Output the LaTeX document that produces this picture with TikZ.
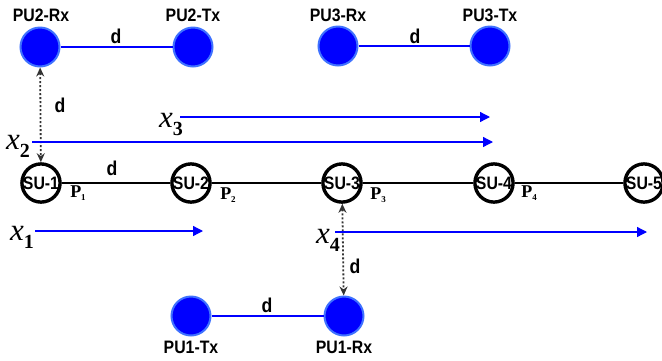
\documentclass[tikz,border=0pt]{standalone}
\usepackage{fontspec}
\usetikzlibrary{arrows.meta}
\newfontfamily\labfont[FakeStretch=0.88]{Liberation Sans}
\newfontfamily\serfont{Liberation Serif}
\definecolor{puedge}{HTML}{3F72FF}
\definecolor{dotgray}{HTML}{333333}
\tikzset{
  pu/.style={circle, fill=blue, draw=puedge, line width=2pt, minimum size=39pt, inner sep=0pt},
  su/.style={circle, fill=white, draw=black, line width=3.4pt, minimum size=38pt, inner sep=0pt,
             font=\labfont\bfseries\fontsize{18}{18}\selectfont},
  lbl/.style={font=\labfont\bfseries\fontsize{18}{18}\selectfont, inner sep=0pt},
  dlbl/.style={font=\labfont\bfseries\fontsize{20}{20}\selectfont, inner sep=0pt},
  pulink/.style={blue, line width=1.8pt},
  sulink/.style={black, line width=2pt},
  flow/.style={blue, line width=1.3pt, -{Triangle[length=10pt,width=10pt]}},
  gap/.style={dotgray, line width=1.8pt, dash pattern=on 2pt off 2pt,
              {Stealth[length=9pt,width=8pt]}-{Stealth[length=9pt,width=8pt]}},
  xlbl/.style={font=\serfont\fontsize{31}{31}\selectfont, inner sep=0pt},
  plbl/.style={font=\serfont\bfseries\fontsize{18}{18}\selectfont, inner sep=0pt}
}
\newcommand{\plab}[1]{P\raisebox{-3pt}{\fontsize{9}{9}\selectfont #1}}
\newcommand{\xlab}[1]{\textit{x}\raisebox{-8pt}{\bfseries\fontsize{20}{20}\selectfont #1}}
\begin{document}
\begin{tikzpicture}[x=1pt,y=-1pt]
\useasboundingbox (0,0) rectangle (662,360);

% primary user pairs
\node[pu] (pu2rx) at (40,47) {};
\node[pu] (pu2tx) at (193,47) {};
\node[pu] (pu3rx) at (338,46) {};
\node[pu] (pu3tx) at (490,46) {};
\node[pu] (pu1tx) at (191,316) {};
\node[pu] (pu1rx) at (344,316) {};

% secondary users along the chain
\node[su] (su1) at (41,183) {SU-1};
\node[su] (su2) at (191,183) {SU-2};
\node[su] (su3) at (342,183) {SU-3};
\node[su] (su4) at (494,183) {SU-4};
\node[su] (su5) at (644,183) {SU-5};

% links
\draw[pulink] (pu2rx) -- (pu2tx);
\draw[pulink] (pu3rx) -- (pu3tx);
\draw[pulink] (pu1tx) -- (pu1rx);
\draw[sulink] (su1) -- (su2);
\draw[sulink] (su2) -- (su3);
\draw[sulink] (su3) -- (su4);
\draw[sulink] (su4) -- (su5);

% device labels
\node[lbl] (l2rx) at (41,15) {PU2-Rx};
\node[lbl] (l2tx) at (193,15) {PU2-Tx};
\node[lbl] (l3rx) at (338,15) {PU3-Rx};
\node[lbl] (l3tx) at (490,15) {PU3-Tx};
\node[lbl] (l1tx) at (191,347) {PU1-Tx};
\node[lbl] (l1rx) at (344,347) {PU1-Rx};

% distance labels
\node[dlbl] (d1) at (116,36) {d};
\node[dlbl] (d2) at (415,36) {d};
\node[dlbl] (d3) at (267,305) {d};
\node[dlbl] (d4) at (112,168) {d};
\node[dlbl] (d5) at (60,105) {d};
\node[dlbl] (d6) at (355,266) {d};

% separation between primary receivers and the chain
\draw[gap] (pu2rx) -- (su1);
\draw[gap] (su3) -- (pu1rx);

% power labels
\node[plbl] (p1) at (78,193) {\plab{1}};
\node[plbl] (p2) at (228,195) {\plab{2}};
\node[plbl] (p3) at (378,195) {\plab{3}};
\node[plbl] (p4) at (529,193) {\plab{4}};

% flows
\node[xlbl] (x3) at (171,124) {\xlab{3}};
\node[xlbl] (x2) at (18,146) {\xlab{2}};
\node[xlbl] (x1) at (22,237) {\xlab{1}};
\node[xlbl] (x4) at (328,240) {\xlab{4}};
\coordinate (x3e) at (490,117);
\coordinate (x2e) at (493,142);
\coordinate (x1e) at (203,231);
\coordinate (x4e) at (647,232);
\draw[flow] (180,117) -- (x3e);
\draw[flow] (32,142) -- (x2e);
\draw[flow] (35,231) -- (x1e);
\draw[flow] (335,232) -- (x4e);
\end{tikzpicture}
\end{document}
